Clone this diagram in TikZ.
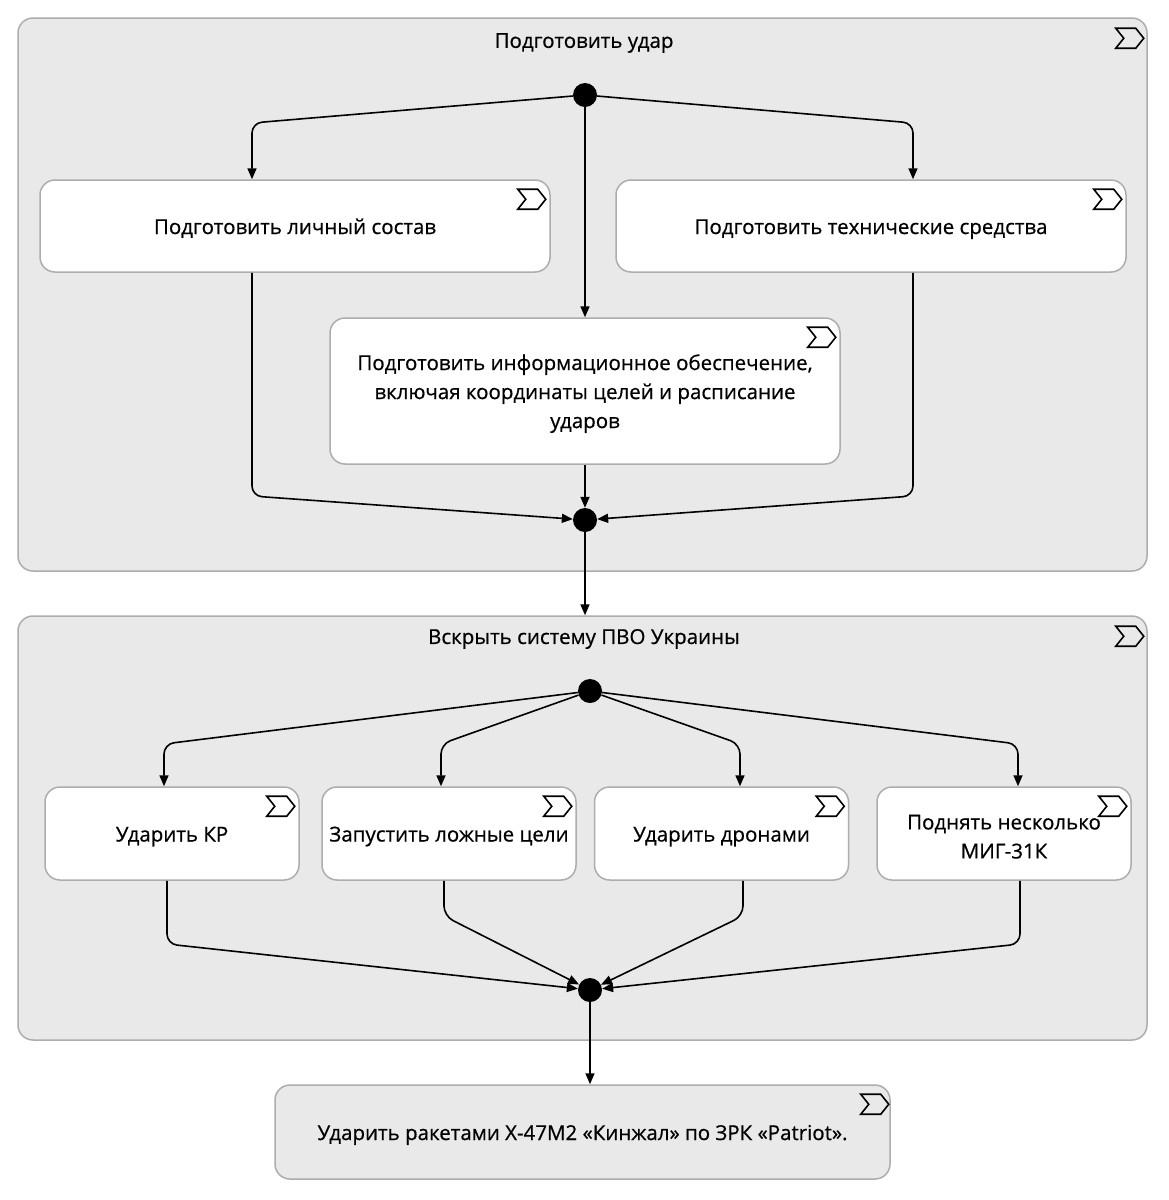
\documentclass[tikz,border=0pt]{standalone}
\usepackage{fontspec}
\setmainfont{Open Sans}
\newfontfamily\medfont{Open Sans}[FakeBold=0.6]
\usetikzlibrary{arrows.meta,calc}
\definecolor{bg}{HTML}{E9E9E9}
\definecolor{bd}{HTML}{ADADAD}
\tikzset{
  container/.style={draw=bd, line width=1.5pt, fill=bg, rounded corners=15pt, inner sep=0pt},
  actbox/.style={draw=bd, line width=1.5pt, fill=white, rounded corners=15pt, inner sep=0pt, align=center, font=\txtfont},
  oneline/.style={text height=21pt, text depth=5pt},
  graybox/.style={actbox, fill=bg},
  bar/.style={circle, fill=black, minimum size=24pt, inner sep=0pt},
  arr/.style={line width=1.6pt, -{Triangle[length=11pt,width=9pt]}, rounded corners=10pt},
  chev/.style={line width=1.6pt, line join=miter},
  ttl/.style={font=\txtfont, inner sep=0pt}
}
\newcommand\txtfont{\medfont\fontsize{20.5}{29}\selectfont}
\newcommand\chevicon[2]{\draw[chev] ($(#1.north east)+#2$) -- ++(20,0) -- ++(8,10) -- ++(-8,10) -- ++(-20,0) -- ++(8,-10) -- cycle;}
\newcommand\topstrut{\rule{0pt}{21pt}}
\begin{document}
\begin{tikzpicture}[x=1pt,y=-1pt]
\useasboundingbox (0,0) rectangle (1168,1200);
\fill[white] (0,0) rectangle (1168,1200);
% containers
\node[container, minimum width=1129pt, minimum height=553pt] (P1) at (582.5,294.5) {};
\node[container, minimum width=1129pt, minimum height=424pt] (P2) at (582.5,828) {};
\node[ttl] (t1) at (584,43) {Подготовить удар};
\node[ttl] (t2) at (584,639) {Вскрыть систему ПВО Украины};
\chevicon{P1}{(-32,11)}
\chevicon{P2}{(-32,11)}
% top group
\node[bar] (f1) at (585,95) {};
\node[actbox, oneline, minimum width=510pt, minimum height=92pt] (A) at (295,226) {Подготовить личный состав};
\node[actbox, oneline, minimum width=510pt, minimum height=92pt] (B) at (871,226) {Подготовить технические средства};
\node[actbox, minimum width=510pt, minimum height=146pt] (C) at (585,391) {\topstrut Подготовить информационное обеспечение,\\включая координаты целей и расписание\\ударов};
\node[bar] (j1) at (585,520) {};
\chevicon{A}{(-33,10)}
\chevicon{B}{(-33,10)}
\chevicon{C}{(-33,10)}
\coordinate (a1) at (252,123);
\coordinate (b1) at (913,123);
\draw[arr] (f1) -- (a1) -- (A.north -| a1);
\draw[arr] (f1) -- (b1) -- (B.north -| b1);
\draw[arr] (f1) -- (C.north -| f1);
\coordinate (a2) at (252,496);
\coordinate (b2) at (913,496);
\draw[arr] (A.south -| a2) -- (a2) -- (j1);
\draw[arr] (B.south -| b2) -- (b2) -- (j1);
\draw[arr] (C.south -| j1) -- (j1);
\draw[arr] (j1) -- (P2.north -| j1);
% second group
\node[bar] (f2) at (590,691) {};
\node[actbox, oneline, minimum width=254pt, minimum height=93pt] (D) at (172,833.5) {Ударить КР};
\node[actbox, oneline, minimum width=254pt, minimum height=93pt] (E) at (449,833.5) {Запустить ложные цели};
\node[actbox, oneline, minimum width=254pt, minimum height=93pt] (F) at (721.5,833.5) {Ударить дронами};
\node[actbox, minimum width=254pt, minimum height=93pt] (G) at (1004,833.5) {\topstrut Поднять несколько\\МИГ-31К};
\node[bar] (j2) at (590,990) {};
\chevicon{D}{(-33,10)}
\chevicon{E}{(-33,10)}
\chevicon{F}{(-33,10)}
\chevicon{G}{(-33,10)}
\coordinate (d1) at (164,744);
\coordinate (e1) at (441,744);
\coordinate (g1) at (740,744);
\coordinate (h1) at (1018,744);
\draw[arr] (f2) -- (d1) -- (D.north -| d1);
\draw[arr] (f2) -- (e1) -- (E.north -| e1);
\draw[arr] (f2) -- (g1) -- (F.north -| g1);
\draw[arr] (f2) -- (h1) -- (G.north -| h1);
\coordinate (d2) at (167,944);
\coordinate (e2) at (444,916);
\coordinate (g2) at (743,916);
\coordinate (h2) at (1020,944);
\draw[arr] (D.south -| d2) -- (d2) -- (j2);
\draw[arr] (E.south -| e2) -- (e2) -- (j2);
\draw[arr] (F.south -| g2) -- (g2) -- (j2);
\draw[arr] (G.south -| h2) -- (h2) -- (j2);
% final
\node[graybox, oneline, minimum width=615pt, minimum height=94pt] (K) at (582.5,1132) {Ударить ракетами Х-47М2 «Кинжал» по ЗРК «Patriot».};
\chevicon{K}{(-30,10)}
\draw[arr] (j2) -- (K.north -| j2);
\end{tikzpicture}
\end{document}
